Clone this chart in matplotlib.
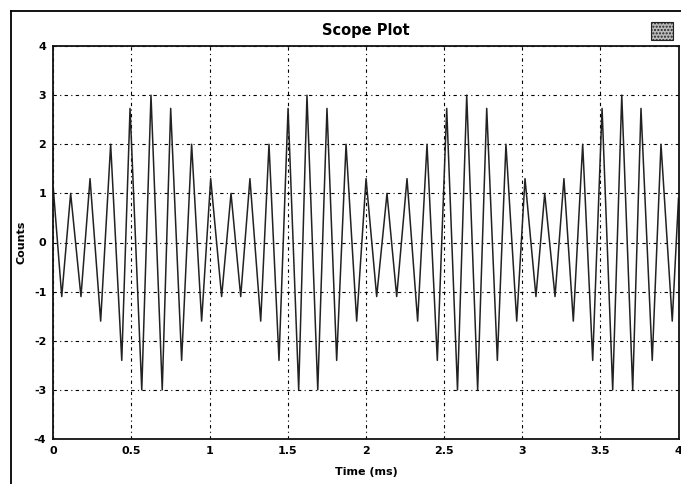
import matplotlib
matplotlib.use("Agg")
import matplotlib.pyplot as plt
from matplotlib.patches import Rectangle
from matplotlib.lines import Line2D

# Vertex times (ms) and values (counts)
time_ms = [0.000, 0.054, 0.111, 0.177, 0.235, 0.303, 0.367, 0.438, 0.491, 0.566,
           0.625, 0.697, 0.751, 0.821, 0.885, 0.949, 1.007, 1.077, 1.137, 1.199,
           1.258, 1.327, 1.380, 1.444, 1.502, 1.570, 1.623, 1.692, 1.751, 1.813,
           1.873, 1.941, 2.001, 2.069, 2.135, 2.197, 2.263, 2.331, 2.391, 2.457,
           2.517, 2.586, 2.645, 2.715, 2.773, 2.841, 2.896, 2.965, 3.018, 3.088,
           3.144, 3.210, 3.267, 3.327, 3.387, 3.451, 3.511, 3.579, 3.637, 3.707,
           3.760, 3.832, 3.888, 3.960, 4.000]
counts = [1.1, -1.1, 1.0, -1.1, 1.3, -1.6, 2.0, -2.4, 2.73, -3.0,
          3.0, -3.0, 2.73, -2.4, 2.0, -1.6, 1.3, -1.1, 1.0, -1.1,
          1.3, -1.6, 2.0, -2.4, 2.73, -3.0, 3.0, -3.0, 2.73, -2.4,
          2.0, -1.6, 1.3, -1.1, 1.0, -1.1, 1.3, -1.6, 2.0, -2.4,
          2.73, -3.0, 3.0, -3.0, 2.73, -2.4, 2.0, -1.6, 1.3, -1.1,
          1.0, -1.1, 1.3, -1.6, 2.0, -2.4, 2.73, -3.0, 3.0, -3.0,
          2.73, -2.4, 2.0, -1.6, 0.9]

x_ticks = [0, 0.5, 1, 1.5, 2, 2.5, 3, 3.5, 4]
x_tick_labels = ["0", "0.5", "1", "1.5", "2", "2.5", "3", "3.5", "4"]
y_ticks = [-4, -3, -2, -1, 0, 1, 2, 3, 4]
y_tick_labels = ["-4", "-3", "-2", "-1", "0", "1", "2", "3", "4"]

W, H = 681, 484
fig = plt.figure(figsize=(W / 100, H / 100), dpi=100)
fig.patch.set_facecolor("white")

# outer frame: left and top edges only
fx, fy = 11 / W, 1 - 11 / H
fig.lines.append(Line2D([fx, fx], [0, fy], transform=fig.transFigure,
                        color="black", linewidth=1.3))
fig.lines.append(Line2D([fx, 1], [fy, fy], transform=fig.transFigure,
                        color="black", linewidth=1.3))

ax = fig.add_axes([53.3 / W, 1 - 439 / H, (678.5 - 53.3) / W, (439 - 46) / H])
ax.plot(time_ms, counts, color="#222222", linewidth=1.1)
ax.set_xlim(0, 4)
ax.set_ylim(-4, 4)
ax.set_xticks(x_ticks)
ax.set_xticklabels(x_tick_labels)
ax.set_yticks(y_ticks)
ax.set_yticklabels(y_tick_labels)
ax.tick_params(length=0, labelsize=8, pad=5)
for lab in ax.get_xticklabels() + ax.get_yticklabels():
    lab.set_fontweight("bold")
ax.grid(True, color="black", linewidth=0.8, linestyle=(0, (3, 3, 1, 3)))
for s in ax.spines.values():
    s.set_linewidth(1.3)
    s.set_color("#111111")

ax.set_title("Scope Plot", fontsize=10.5, fontweight="bold", pad=8)
ax.set_xlabel("Time (ms)", fontsize=8, fontweight="bold", labelpad=8)
ax.set_ylabel("Counts", fontsize=8, fontweight="bold", labelpad=5)

# small logo box at the top right
fig.patches.append(Rectangle((651 / W, 1 - 40 / H), 22 / W, 18 / H,
                             transform=fig.transFigure, facecolor="#bbbbbb",
                             edgecolor="#222222", linewidth=0.8, hatch="....."))

fig.savefig("out.png", dpi=100)
